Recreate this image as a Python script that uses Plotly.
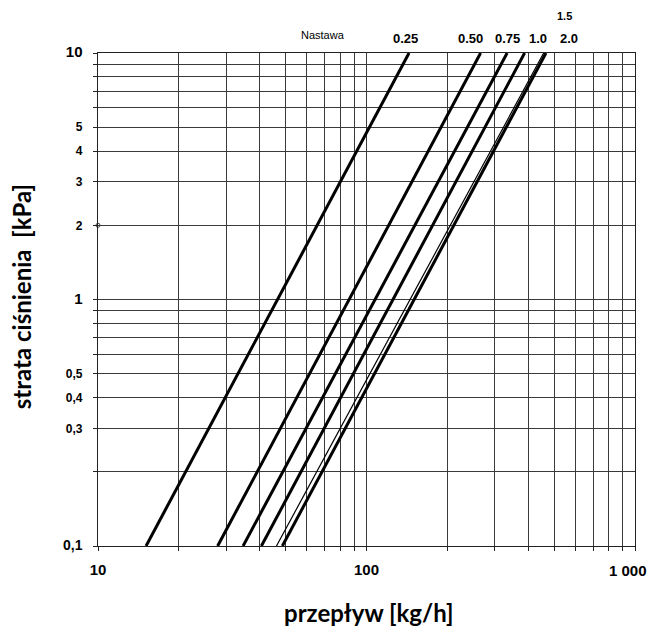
import math
import plotly.graph_objects as go

# Data
settings = ["0.25", "0.50", "0.75", "1.0", "1.5", "2.0"]
dp_ends = [0.1, 10]                                   # kPa, line ends
flow_at_low = [15.1, 27.9, 34.7, 40.6, 46.2, 48.6]    # kg/h at 0.1 kPa
flow_at_high = [144, 266, 334, 388, 457, 466]         # kg/h at 10 kPa
line_widths = [3, 3, 3, 3, 1.2, 3]

label_x = [139.6, 244, 335, 436, 545, 569]            # setting label positions (kg/h)
label_row = [0, 0, 0, 0, 1, 0]                        # 1 = upper row
nastawa_x = 68.7

y_tickvals = [0.1, 0.2, 0.3, 0.4, 0.5, 0.6, 0.7, 0.8, 0.9,
              1, 2, 3, 4, 5, 6, 7, 8, 9, 10]
y_labels = {0.1: "0,1", 0.3: "0,3", 0.4: "0,4", 0.5: "0,5",
            1: "1", 2: "2", 3: "3", 4: "4", 5: "5", 10: "10"}
y_label_size = {0.1: 14, 0.3: 12, 0.4: 12, 0.5: 12,
                1: 15, 2: 12, 3: 12, 4: 12, 5: 12, 10: 15}
x_tickvals = [10, 20, 30, 40, 50, 60, 70, 80, 90,
              100, 200, 300, 400, 500, 600, 700, 800, 900, 1000]
x_labels = {10: "10", 100: "100"}
x_last_label = "1 000"

def ylab(v):
    if v not in y_labels:
        return ""
    return ('<b><span style="font-size:%dpx">' % y_label_size[v]) + y_labels[v] + "</span></b>"

fig = go.Figure()
for name, q0, q1, w in zip(settings, flow_at_low, flow_at_high, line_widths):
    fig.add_trace(go.Scatter(x=[q0, q1], y=dp_ends, mode="lines", name=name,
                             line=dict(color="black", width=w),
                             showlegend=False, hoverinfo="skip"))

# small open circle on the left axis at 2 kPa
fig.add_trace(go.Scatter(x=[10], y=[2], mode="markers", showlegend=False,
                         marker=dict(symbol="circle-open", size=4, color="#444"),
                         cliponaxis=False, hoverinfo="skip"))

grid_col = "#3a3a3a"
common = dict(showgrid=True, gridcolor=grid_col, gridwidth=1,
              showline=True, linecolor="#222", linewidth=1.2, mirror=True,
              ticks="outside", ticklen=4, tickcolor="#222",
              zeroline=False, automargin=False)
fig.update_xaxes(type="log", range=[1, 3], tickvals=x_tickvals,
                 ticktext=["<b>" + x_labels[v] + "</b>" if v in x_labels else "" for v in x_tickvals],
                 tickfont=dict(family="Liberation Sans", size=15, color="black"),
                 ticklabelstandoff=6, **common)
fig.update_yaxes(type="log", range=[-1, 1], tickvals=y_tickvals,
                 ticktext=[ylab(v) for v in y_tickvals],
                 tickfont=dict(family="Liberation Sans", size=12, color="black"),
                 ticklabelstandoff=8, **common)

annotations = [
    dict(x=0.505, y=-0.134, xref="paper", yref="paper", text="<b>przepływ [kg/h]</b>",
         showarrow=False, xanchor="center", yanchor="middle",
         font=dict(family="Lato", size=24, color="black")),
    dict(x=-0.143, y=0.505, xref="paper", yref="paper", text="<b>strata ciśnienia  [kPa]</b>",
         showarrow=False, xanchor="center", yanchor="middle", textangle=-90,
         font=dict(family="Lato", size=24, color="black")),
    # last x tick label, kept inside the window edge
    dict(x=1.026, y=0, xref="paper", yref="paper", yshift=-24,
         text="<b>" + x_last_label + "</b>", showarrow=False,
         xanchor="right", yanchor="middle",
         font=dict(family="Liberation Sans", size=15, color="black")),
    dict(x=math.log10(nastawa_x), y=1.0, xref="x", yref="paper", yshift=18,
         text="Nastawa", showarrow=False, xanchor="center", yanchor="middle",
         font=dict(family="Liberation Sans", size=11, color="black")),
]
for name, lx, row in zip(settings, label_x, label_row):
    annotations.append(dict(x=math.log10(lx), y=1.0, xref="x", yref="paper",
                            yshift=15 + 22 * row, text="<b>" + name + "</b>",
                            showarrow=False, xanchor="center", yanchor="middle",
                            font=dict(family="Liberation Sans", size=13 if row == 0 else 11,
                                      color="black")))

# The page body has an 8px margin, so the figure is sized to the remaining window.
fig.update_layout(width=651, height=624,
                  margin=dict(l=90, r=24, t=45, b=86),
                  paper_bgcolor="white", plot_bgcolor="white",
                  annotations=annotations)

fig.write_html("out.html")
